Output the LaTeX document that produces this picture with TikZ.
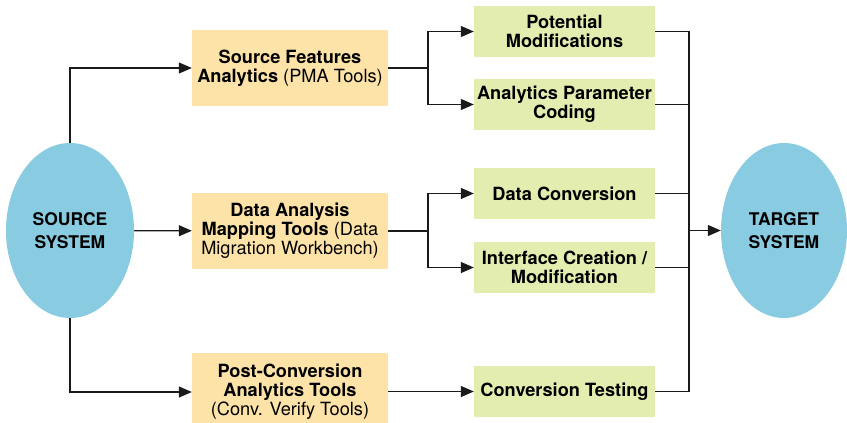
\documentclass[tikz,border=0pt]{standalone}
\usepackage{fontspec}
\setmainfont{TeX Gyre Heros}
\usetikzlibrary{arrows.meta,shapes.geometric}
\definecolor{ellblue}{HTML}{89CCE2}
\definecolor{boxyellow}{HTML}{FDE3A7}
\definecolor{boxgreen}{HTML}{E4EDB0}
\definecolor{lineclr}{HTML}{1A1A1A}
\tikzset{
  sysnode/.style={ellipse, fill=ellblue, inner sep=0pt, align=center, font=\fontsize{17.5}{23}\selectfont\bfseries},
  toolbox/.style={rectangle, fill=boxyellow, minimum width=196pt, inner sep=0pt, align=center, font=\fontsize{18.2}{19}\selectfont},
  taskbox/.style={rectangle, fill=boxgreen, minimum width=181pt, minimum height=51pt, inner sep=0pt, align=center, font=\fontsize{18.2}{19}\selectfont\bfseries},
  conn/.style={draw=lineclr, line width=1.2pt},
  arr/.style={conn, -{Triangle[length=13pt,width=11pt]}},
}
\begin{document}
\begin{tikzpicture}[x=1pt,y=-1pt]
\path[use as bounding box, clip] (0,0) rectangle (847,423);
\fill[white] (0,0) rectangle (847,423);
% systems
\node[sysnode, minimum width=128pt, minimum height=175pt] (src) at (70,230.5) {SOURCE\\SYSTEM};
\node[sysnode, minimum width=126pt, minimum height=175pt] (tgt) at (784,230.5) {TARGET\\SYSTEM};
% tools
\node[toolbox, minimum height=76pt] (y1) at (290,68) {\textbf{Source Features}\\\textbf{Analytics} (PMA Tools)};
\node[toolbox, minimum height=76pt] (y2) at (290,231) {\textbf{Data Analysis}\\\textbf{Mapping Tools} (Data\\Migration Workbench)};
\node[toolbox, minimum height=78pt] (y3) at (290,392) {\textbf{Post-Conversion}\\\textbf{Analytics Tools}\\(Conv. Verify Tools)};
% tasks
\node[taskbox] (gA) at (564.5,31.5) {Potential\\Modifications};
\node[taskbox] (gB) at (564.5,104.5) {Analytics Parameter\\Coding};
\node[taskbox] (gC) at (564.5,193.5) {Data Conversion};
\node[taskbox] (gD) at (564.5,267.5) {Interface Creation /\\Modification};
\node[taskbox] (gE) at (564.5,391.5) {Conversion Testing};
% source to tools
\draw[arr] (src) |- (y1);
\draw[arr] (src) -- (y2);
\draw[arr] (src) |- (y3);
% tools to tasks
\coordinate (j1) at (428,68);
\coordinate (j2) at (428,231);
\draw[conn] (y1.east) -- (j1);
\draw[arr] (j1) |- (gA.west);
\draw[arr] (j1) |- (gB.west);
\draw[conn] (y2.east) -- (j2);
\draw[arr] (j2) |- (gC.west);
\draw[arr] (j2) |- (gD.west);
\draw[arr] (y3.east |- gE.west) -- (gE.west);
% tasks to target
\coordinate (bt) at (689,31.5);
\coordinate (bb) at (689,391.5);
\coordinate (bm) at (689,230.5);
\draw[conn] (gA.east) -- (bt) -- (bb) -- (gE.east);
\draw[conn] (gB.east) -- (gB.east -| bt);
\draw[conn] (gC.east) -- (gC.east -| bt);
\draw[conn] (gD.east) -- (gD.east -| bt);
\draw[arr] (bm) -- (tgt);
\end{tikzpicture}
\end{document}
